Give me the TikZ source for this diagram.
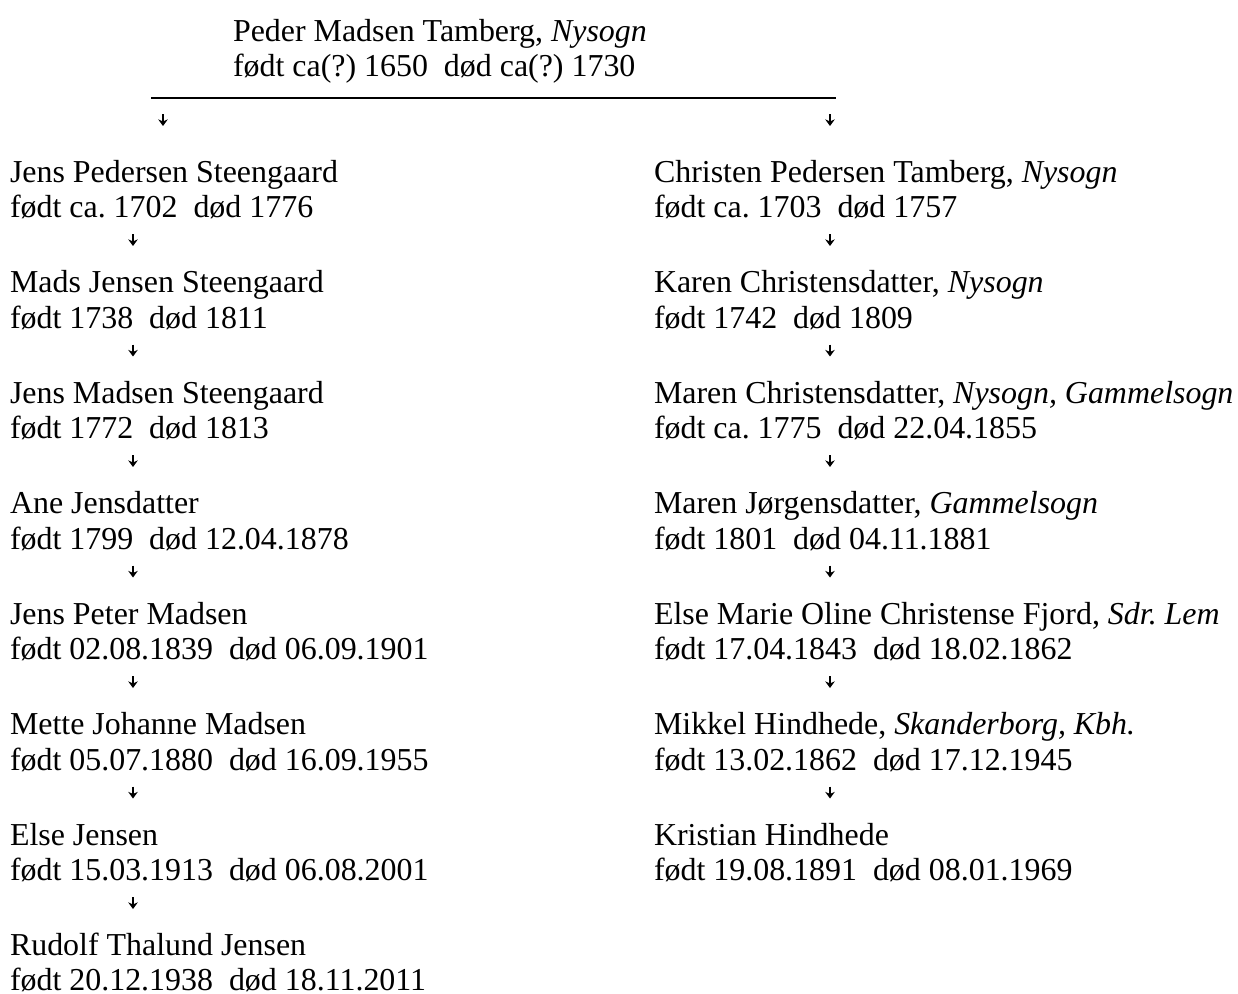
\documentclass[tikz,border=0pt]{standalone}
\usepackage{fontspec}
\setmainfont{Liberation Serif}
\usetikzlibrary{arrows.meta,calc}
\frenchspacing
\newcommand{\twol}[2]{\vtop{\hbox{#1}\hbox{#2}}}
\newcommand{\dsp}{\ \ }
\begin{document}
\begin{tikzpicture}[x=0.3759pt,y=-0.3759pt,
  person/.style={anchor=base west,inner sep=0pt,outer sep=0pt,font=\fontsize{12}{13.5}\selectfont},
  desc/.style={-{Stealth[length=2.5pt,width=3.6pt]},line width=0.65pt},
  rule/.style={line width=0.5pt}]
\fill[white] (0,0) rectangle (1238,994);
\useasboundingbox (0,0) rectangle (1238,994);
% top
\node[person] (T) at (233,41) {\twol{Peder Madsen Tamberg, \textit{Nysogn}}{født ca(?) 1650\dsp død ca(?) 1730}};
\coordinate (hl) at (151,98);
\coordinate (hr) at (836,98);
\draw[rule] (hl) -- (hr);
% left column
\node[person] (L0) at (10,182) {\twol{Jens Pedersen Steengaard}{født ca. 1702\dsp død 1776}};
\node[person] (L1) at (10,292.5) {\twol{Mads Jensen Steengaard}{født 1738\dsp død 1811}};
\node[person] (L2) at (10,403) {\twol{Jens Madsen Steengaard}{født 1772\dsp død 1813}};
\node[person] (L3) at (10,513.5) {\twol{Ane Jensdatter}{født 1799\dsp død 12.04.1878}};
\node[person] (L4) at (10,624) {\twol{Jens Peter Madsen}{født 02.08.1839\dsp død 06.09.1901}};
\node[person] (L5) at (10,734.5) {\twol{Mette Johanne Madsen}{født 05.07.1880\dsp død 16.09.1955}};
\node[person] (L6) at (10,845) {\twol{Else Jensen}{født 15.03.1913\dsp død 06.08.2001}};
\node[person] (L7) at (10,955) {\twol{Rudolf Thalund Jensen}{født 20.12.1938\dsp død 18.11.2011}};
% right column
\node[person] (R0) at (654,182) {\twol{Christen Pedersen Tamberg, \textit{Nysogn}}{født ca. 1703\dsp død 1757}};
\node[person] (R1) at (654,292.5) {\twol{Karen Christensdatter, \textit{Nysogn}}{født 1742\dsp død 1809}};
\node[person] (R2) at (654,403) {\twol{Maren Christensdatter, \textit{Nysogn, Gammelsogn}}{født ca. 1775\dsp død 22.04.1855}};
\node[person] (R3) at (654,513.5) {\twol{Maren Jørgensdatter, \textit{Gammelsogn}}{født 1801\dsp død 04.11.1881}};
\node[person] (R4) at (654,624) {\twol{Else Marie Oline Christense Fjord, \textit{Sdr. Lem}}{født 17.04.1843\dsp død 18.02.1862}};
\node[person] (R5) at (654,734.5) {\twol{Mikkel Hindhede, \textit{Skanderborg, Kbh.}}{født 13.02.1862\dsp død 17.12.1945}};
\node[person] (R6) at (654,845) {\twol{Kristian Hindhede}{født 19.08.1891\dsp død 08.01.1969}};
% top arrows
\coordinate (ta) at (163,114);
\coordinate (tb) at (830,114);
\draw[desc] (ta) -- ++(0,12);
\draw[desc] (tb) -- ++(0,12);
% column arrows
\foreach \i in {0,...,6} {
  \draw[desc] ([shift={(123,52)}]L\i.base west) -- ++(0,12);
}
\foreach \i in {0,...,5} {
  \draw[desc] ([shift={(176,52)}]R\i.base west) -- ++(0,12);
}
\end{tikzpicture}
\end{document}
